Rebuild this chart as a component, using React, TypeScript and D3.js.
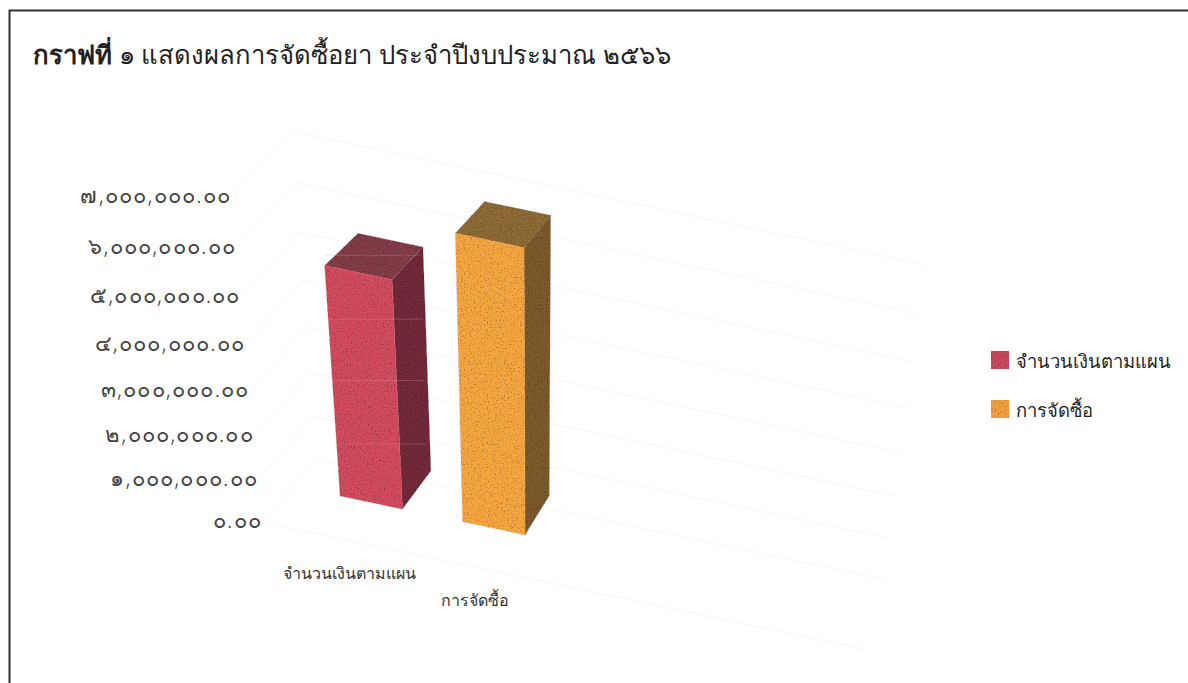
import React from 'react';
import * as d3 from 'd3';

const categories = ['จำนวนเงินตามแผน', 'การจัดซื้อ'];
const values = [5000000, 6200000];
const tickValues = [0, 1000000, 2000000, 3000000, 4000000, 5000000, 6000000, 7000000];
const thaiDigits = ['๐', '๑', '๒', '๓', '๔', '๕', '๖', '๗', '๘', '๙'];
// faint light streaks that show across the first bar
const streakValues = [1350000, 2750000, 4050000, 5350000];
const faces = [
  { front: '#d24c5e', side: '#72293a', top: '#823c48' },
  { front: '#f6a640', side: '#7c5a2c', top: '#8e6a36' },
];
const legendColors = ['#c84a5e', '#f0a040'];

const WIDTH = 1188;
const HEIGHT = 683;
const FONT = '"Noto Sans", "DejaVu Sans", sans-serif';

// world x runs along the floor, y is value in millions, z is depth into the chart
const xBand = d3.scaleBand<string>().domain(categories).range([0, 1]).paddingInner(0.49);
const yWorld = d3.scaleLinear().domain([0, 7000000]).range([0, 7]);
const floorX = d3.scaleLinear().domain([0, 1]).range([340, 525]);
const floorY = d3.scaleLinear().domain([0, 1]).range([496, 535]);

// vanishing points for the value and depth directions
const vpY = { x: 535, y: 3400, k: -0.0147 };
const vpZ = { x: 1240, y: -620, k: 0.0352 };

const project = (x: number, value: number, z: number): [number, number] => {
  const y = yWorld(value);
  const w = 1 + vpY.k * y + vpZ.k * z;
  return [
    (floorX(x) + vpY.k * y * vpY.x + vpZ.k * z * vpZ.x) / w,
    (floorY(x) + vpY.k * y * vpY.y + vpZ.k * z * vpZ.y) / w,
  ];
};

const axisX = -0.254;
const axisZ = -0.9;
const wallZ = 0.7;
const wallX = 2.9;
// the axis sits nearer the viewer, its ticks are squeezed a little to stay on the labels
const axisSqueeze = 0.955;
const polygon = d3.line();

const formatTick = (v: number) =>
  d3.format(',.2f')(v).replace(/\d/g, d => thaiDigits[+d]);

const App = () => {
  const bw = xBand.bandwidth();
  return (
    <svg
      width={WIDTH}
      height={HEIGHT}
      viewBox={`0 0 ${WIDTH} ${HEIGHT}`}
      style={{ position: 'fixed', left: 0, top: 0, background: '#fff' }}
    >
      <defs>
        <filter id="grain" x="0" y="0" width="100%" height="100%">
          <feTurbulence type="fractalNoise" baseFrequency="0.7" numOctaves="2" seed="4" result="noise" />
          <feColorMatrix
            in="noise"
            type="matrix"
            values="2 0 0 0 0.05  2 0 0 0 0.05  2 0 0 0 0.05  0 0 0 0 1"
            result="gray"
          />
          <feBlend in="SourceGraphic" in2="gray" mode="multiply" result="mixed" />
          <feComposite in="mixed" in2="SourceAlpha" operator="in" />
        </filter>
      </defs>

      <path d="M9.5,683V10.5H1188" fill="none" stroke="#333" strokeWidth={2} />

      <text x={33} y={64} fontFamily={FONT} fontSize={25.7} fill="#222">
        <tspan fontWeight="bold">กราฟที่</tspan>
        <tspan> ๑ แสดงผลการจัดซื้อยา ประจำปีงบประมาณ ๒๕๖๖</tspan>
      </text>

      <g fill="none" stroke="#f6f6f6" strokeWidth={1}>
        {tickValues.map(v => (
          <path key={v} d={polygon([project(axisX, v, wallZ), project(wallX, v, wallZ)]) ?? ''} />
        ))}
        {tickValues.map(v => (
          <path key={v} d={polygon([project(axisX, v * axisSqueeze, axisZ), project(axisX, v, wallZ)]) ?? ''} />
        ))}
        <path d={polygon([project(axisX, 0, axisZ), project(wallX, 0, axisZ)]) ?? ''} />
      </g>

      {tickValues.map(v => {
        const [tx, ty] = project(axisX, v * axisSqueeze, axisZ);
        return (
          <text
            key={v}
            x={tx}
            y={ty}
            textAnchor="end"
            dominantBaseline="middle"
            fontFamily={FONT}
            fontSize={22}
            fontWeight={300}
            letterSpacing={1.2}
            fill="#444"
          >
            {formatTick(v)}
          </text>
        );
      })}

      {categories.map((c, i) => {
        const x0 = xBand(c) ?? 0;
        const x1 = x0 + bw;
        const v = values[i];
        const [ftl, ftr, fbr, fbl] = [project(x0, v, 0), project(x1, v, 0), project(x1, 0, 0), project(x0, 0, 0)];
        const [btl, btr, bbr] = [project(x0, v, 1), project(x1, v, 1), project(x1, 0, 1)];
        const [lx, ly] = project(x0 + bw / 2, 0, -0.7);
        return (
          <g key={c}>
            <g filter="url(#grain)">
              <path d={`${polygon([ftl, ftr, btr, btl])}Z`} fill={faces[i].top} stroke={faces[i].top} strokeWidth={0.6} />
              <path d={`${polygon([ftr, btr, bbr, fbr])}Z`} fill={faces[i].side} stroke={faces[i].side} strokeWidth={0.6} />
              <path d={`${polygon([ftl, ftr, fbr, fbl])}Z`} fill={faces[i].front} stroke={faces[i].front} strokeWidth={0.6} />
            </g>
            <text x={lx} y={ly + 44} textAnchor="middle" dominantBaseline="middle" fontFamily={FONT} fontSize={16} fill="#333">
              {c}
            </text>
          </g>
        );
      })}

      <g stroke="#f08a96" strokeOpacity={0.3} strokeWidth={1}>
        {streakValues.map(v => {
          const x0 = xBand(categories[0]) ?? 0;
          const [, sy] = project(x0 + bw / 2, v, 0);
          return (
            <line key={v} x1={project(x0, v, 0)[0] + 2} x2={project(x0 + bw, v, 1)[0] - 2} y1={sy} y2={sy} />
          );
        })}
      </g>

      {categories.map((c, i) => (
        <g key={c} transform={`translate(991,${351 + i * 49})`}>
          <rect width={18} height={18} fill={legendColors[i]} filter="url(#grain)" />
          <text x={25} y={12} dominantBaseline="middle" fontFamily={FONT} fontSize={18.4} fill="#222">
            {c}
          </text>
        </g>
      ))}
    </svg>
  );
};

export default App;
